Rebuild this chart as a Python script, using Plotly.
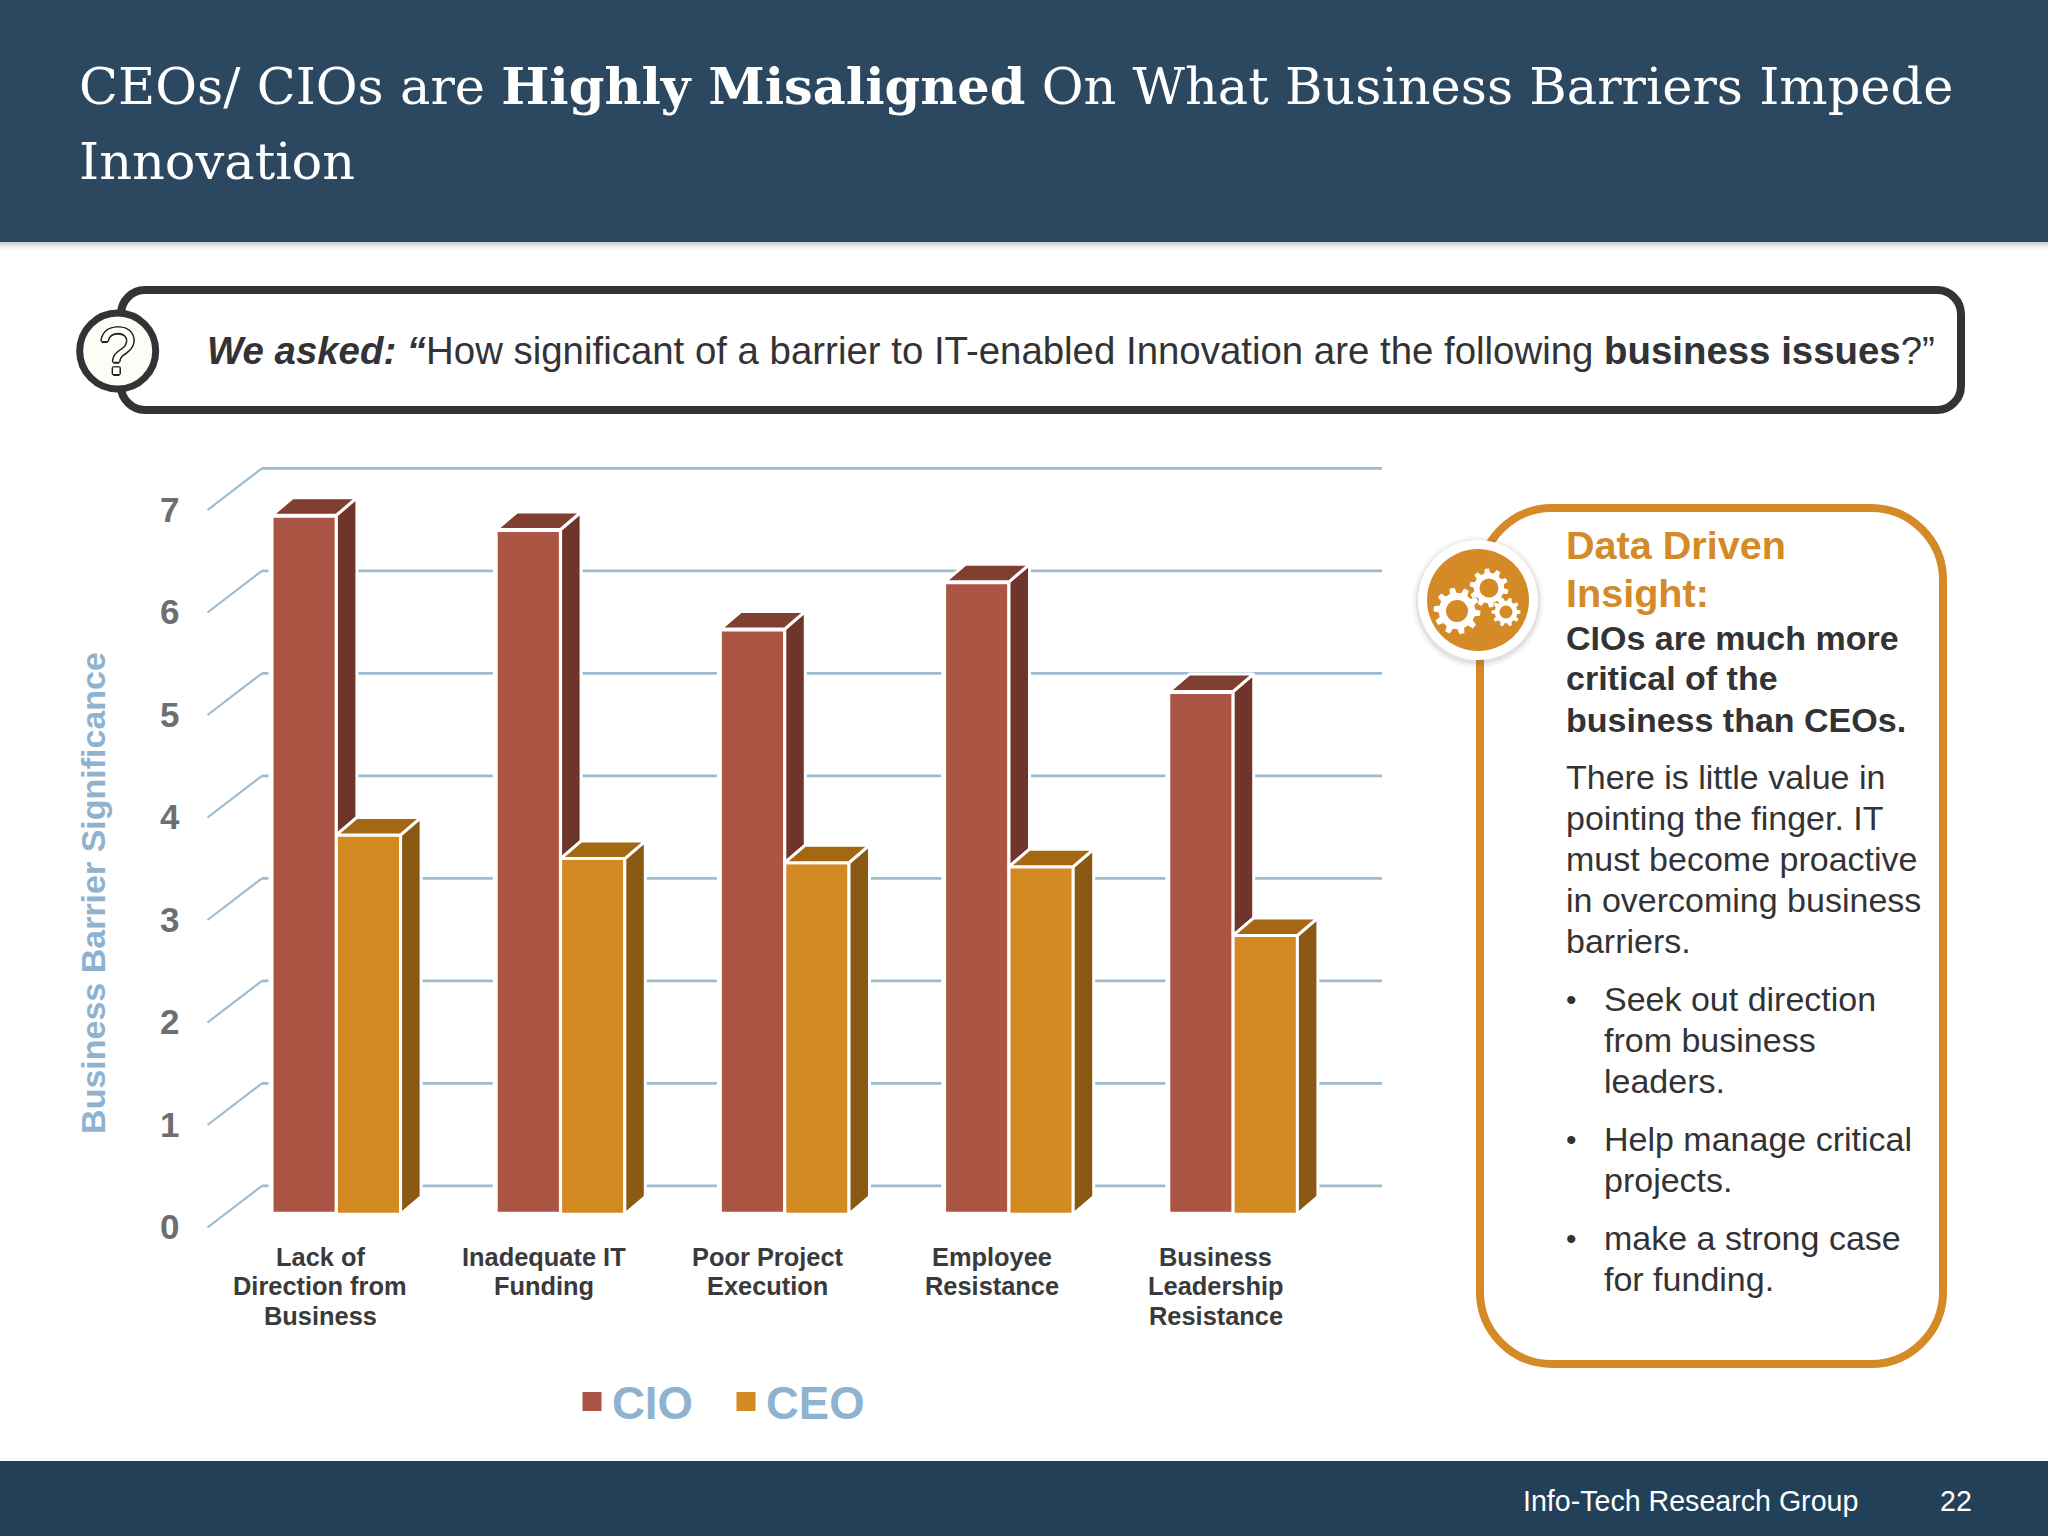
import plotly.graph_objects as go

# ---------- data ----------
categories = ["Lack of<br>Direction from<br>Business", "Inadequate IT<br>Funding", "Poor Project<br>Execution",
              "Employee<br>Resistance", "Business<br>Leadership<br>Resistance"]
cio_values = [6.82, 6.68, 5.71, 6.17, 5.1]
ceo_values = [3.7, 3.47, 3.43, 3.39, 2.72]
y_ticks = [0, 1, 2, 3, 4, 5, 6, 7]
series_names = ["CIO", "CEO"]

W, H = 2048, 1536
FONT = "Liberation Sans"
SERIF = "DejaVu Serif"
# scale geometry (pixels per unit, position of the origin)
X0, XSTEP = 336.4, 224.2
Y0, YSTEP = 1214.2, 102.5
Y_TOP, Y_BOT = 450, 1336
BAR_W = 64.2 / XSTEP
DX, DY = 20.5 / XSTEP, 17.5 / YSTEP

def px(x): return x / W
def py(y): return 1 - y / H
def dx(x): return (x - X0) / XSTEP
def dv(y): return (Y0 - y) / YSTEP

C_CIO, C_CIO_SIDE, C_CIO_TOP = "#ab5544", "#6f352a", "#813f31"
C_CEO, C_CEO_SIDE, C_CEO_TOP = "#d38a22", "#8a5a15", "#a56812"
GRID = "#9dbbd0"
BLUE = "#8fb3cf"
ORANGE = "#d38a27"
DARK = "#333335"

shapes = []

def rrect(x0, y0, x1, y1, r):
    k = r * 0.45
    pts = [f"M{px(x0+r):.6f},{py(y0):.6f}", f"L{px(x1-r):.6f},{py(y0):.6f}",
           f"C{px(x1-k):.6f},{py(y0):.6f} {px(x1):.6f},{py(y0+k):.6f} {px(x1):.6f},{py(y0+r):.6f}",
           f"L{px(x1):.6f},{py(y1-r):.6f}",
           f"C{px(x1):.6f},{py(y1-k):.6f} {px(x1-k):.6f},{py(y1):.6f} {px(x1-r):.6f},{py(y1):.6f}",
           f"L{px(x0+r):.6f},{py(y1):.6f}",
           f"C{px(x0+k):.6f},{py(y1):.6f} {px(x0):.6f},{py(y1-k):.6f} {px(x0):.6f},{py(y1-r):.6f}",
           f"L{px(x0):.6f},{py(y0+r):.6f}",
           f"C{px(x0):.6f},{py(y0+k):.6f} {px(x0+k):.6f},{py(y0):.6f} {px(x0+r):.6f},{py(y0):.6f}Z"]
    return " ".join(pts)

def rect(x0, y0, x1, y1, fill):
    shapes.append(dict(type="rect", xref="paper", yref="paper", x0=px(x0), x1=px(x1), y0=py(y1), y1=py(y0),
                       fillcolor=fill, line_width=0, layer="below"))

def circle(cx, cy, r, fill, line=None, lw=0):
    shapes.append(dict(type="circle", xref="paper", yref="paper", x0=px(cx-r), x1=px(cx+r), y0=py(cy+r), y1=py(cy-r),
                       fillcolor=fill, line=dict(color=line or fill, width=lw), layer="below"))

def gear(cx, cy, r, hole, teeth, start=0.0):
    import math
    pts = []
    n = teeth
    for i in range(n):
        a = start + 2 * math.pi * i / n
        w = 2 * math.pi / n
        for off, rad in [(-0.30, r * 0.78), (-0.17, r), (0.17, r), (0.30, r * 0.78)]:
            t = a + off * w
            pts.append((cx + rad * math.cos(t), cy + rad * math.sin(t)))
    d = "M" + " L".join(f"{px(x):.6f},{py(y):.6f}" for x, y in pts) + "Z"
    shapes.append(dict(type="path", xref="paper", yref="paper", path=d, fillcolor="white", line_width=0, layer="below"))
    circle(cx, cy, hole, ORANGE)

# slide furniture
for i, a in enumerate([0.03, 0.05, 0.07, 0.10]):
    rect(0, 242, W, 250 - 2 * i, f"rgba(60,60,60,{a})")
rect(0, 0, W, 242, "#2c4860")
rect(0, 1461, W, H, "#234059")

shapes.append(dict(type="path", xref="paper", yref="paper", path=rrect(121, 290, 1961, 410, 24),
                   fillcolor="white", line=dict(color=DARK, width=8), layer="below"))
circle(117.7, 351, 38, "#fdfcf7", DARK, 7)

shapes.append(dict(type="path", xref="paper", yref="paper", path=rrect(1480, 508, 1943, 1364, 72),
                   fillcolor="white", line=dict(color=ORANGE, width=8), layer="below"))
for r, a in [(66, 0.03), (64, 0.05), (62, 0.08)]:
    circle(1478, 602, r, f"rgba(70,70,70,{a})")
circle(1478, 600, 60, "white")
circle(1478, 600, 51, ORANGE)
gear(1457, 611, 23.5, 11, 10, 0.1)
gear(1489, 588, 19.5, 9.5, 10, 0.2)
gear(1506, 612, 14.5, 6.5, 10, 0.0)

# back wall and side wall of the 3D plot (drawn through the chart's scales)
for t in y_ticks:
    back = t + dv(1185.8)
    front = t + dv(1227.5)
    common = dict(type="line", xref="x", yref="y", layer="below")
    shapes.append(dict(x0=dx(262), x1=dx(1382), y0=back, y1=back, line=dict(color=GRID, width=2.8), **common))
    shapes.append(dict(x0=dx(207.5), x1=dx(262), y0=front, y1=back, line=dict(color=GRID, width=2.2), **common))

# 3D faces
n = len(categories)
xs = list(range(n))

def faces(left_offset, values, floor, side, top):
    sx, sy, tx, ty = [], [], [], []
    for x, v, f in zip(xs, values, floor):
        l = x + left_offset
        r = l + BAR_W
        sx += [r, r + DX, r + DX, r, r, None]
        sy += [f, f + DY, v + DY, v, f, None]
        tx += [l, l + DX, r + DX, r, l, None]
        ty += [v, v + DY, v + DY, v, v, None]
    common = dict(mode="lines", fill="toself", showlegend=False, hoverinfo="skip")
    return [go.Scatter(x=sx, y=sy, fillcolor=side, line=dict(color="white", width=3), **common),
            go.Scatter(x=tx, y=ty, fillcolor=top, line=dict(color="white", width=3), **common)]

fig = go.Figure()
fig.add_trace(go.Bar(name=series_names[0], x=xs, y=cio_values, width=BAR_W + 2 / XSTEP, offset=-BAR_W - 1.2 / XSTEP,
                     marker_color=C_CIO, marker_line=dict(color="white", width=5), showlegend=False))
fig.add_trace(go.Bar(name=series_names[1], x=xs, y=ceo_values, width=BAR_W, offset=0,
                     marker_color=C_CEO, marker_line=dict(color="white", width=3), showlegend=False))
for tr in faces(-BAR_W, cio_values, ceo_values, C_CIO_SIDE, C_CIO_TOP):
    fig.add_trace(tr)
for tr in faces(0, ceo_values, [0] * n, C_CEO_SIDE, C_CEO_TOP):
    fig.add_trace(tr)
# legend entries
for name, col in zip(series_names, [C_CIO, C_CEO]):
    fig.add_trace(go.Scatter(x=[None], y=[None], mode="markers", name=name,
                             marker=dict(symbol="square", size=16, color=col, line=dict(color=col, width=3))))

annotations = []

def text(x, y, s, size, color=DARK, family=FONT, anchor="left", **font):
    annotations.append(dict(xref="paper", yref="paper", x=px(x), y=py(y), text=s, showarrow=False, xanchor=anchor,
                            yanchor="middle", borderpad=0, font=dict(family=family, size=size, color=color, **font)))

# header
text(78, 86, "CEOs/ CIOs are <b>Highly Misaligned</b> On What Business Barriers Impede", 51, "white", SERIF)
text(78, 161, "Innovation", 51, "white", SERIF)
# question
text(206, 350, "<b><i>We asked: “</i></b>How significant of a barrier to IT-enabled Innovation are the following <b>business issues</b>?”", 38.4, DARK)
text(117.7, 351, "?", 66, "white", anchor="center",
     shadow="1.5px 0 #222, -1.5px 0 #222, 0 1.5px #222, 0 -1.5px #222, 1px 1px #222, -1px -1px #222, 1px -1px #222, -1px 1px #222")
# category labels
cat_y = [1256.5, 1286, 1315.5]
for x, c in zip(xs, categories):
    for y, line in zip(cat_y, c.split("<br>")):
        annotations.append(dict(xref="x", yref="paper", x=dx(320 + x * 223.9), y=py(y), text=f"<b>{line}</b>", showarrow=False,
                                xanchor="center", yanchor="middle", borderpad=0,
                                font=dict(family=FONT, size=25.4, color="#3a3a3c")))
# insight panel
for y, s in [(545, "Data Driven"), (593, "Insight:")]:
    text(1565, y, f"<b>{s}</b>", 39.6, ORANGE)
for y, s in [(637.5, "CIOs are much more"), (678, "critical of the"), (720, "business than CEOs.")]:
    text(1565, y, f"<b>{s}</b>", 34)
for y, s in [(777, "There is little value in"), (818, "pointing the finger. IT"), (859, "must become proactive"),
             (900, "in overcoming business"), (941, "barriers.")]:
    text(1565, y, s, 34)
for y, s, b in [(999, "Seek out direction", True), (1040, "from business", False), (1081, "leaders.", False),
                (1139, "Help manage critical", True), (1180, "projects.", False),
                (1238, "make a strong case", True), (1279, "for funding.", False)]:
    text(1603, y, s, 34)
    if b:
        text(1565, y, "•", 30)
# footer
text(1522, 1500.5, "Info-Tech Research Group", 28.6, "white")
text(1939, 1500.5, "22", 28.6, "white")

fig.update_layout(
    width=W, height=H, margin=dict(l=0, r=0, t=0, b=0), paper_bgcolor="white", plot_bgcolor="rgba(0,0,0,0)",
    barmode="overlay", shapes=shapes, annotations=annotations, hovermode=False,
    legend=dict(orientation="h", x=px(572), y=py(1402), xanchor="left", yanchor="middle", bgcolor="rgba(0,0,0,0)",
                font=dict(family=FONT, size=45.5, color=BLUE, weight="bold"), entrywidth=109, entrywidthmode="pixels"),
    xaxis=dict(domain=[0, 1], range=[dx(0), dx(W)], visible=False, fixedrange=True),
    yaxis=dict(domain=[py(Y_BOT), py(Y_TOP)], range=[dv(Y_BOT), dv(Y_TOP)], anchor="free", position=px(179.5),
               tickmode="array", tickvals=y_ticks, ticktext=[str(t) for t in y_ticks],
               showgrid=False, zeroline=False, showline=False, ticks="", automargin=False, fixedrange=True,
               ticklabelshift=13, ticklabelstandoff=0,
               tickfont=dict(family=FONT, size=35, color="#6d6e71", weight="bold"),
               title=dict(text="<b>Business Barrier Significance</b>", standoff=42.5,
                          font=dict(family=FONT, size=34, color=BLUE))),
)
fig.write_html("out.html", config=dict(displayModeBar=False),
               post_script="document.body.style.margin='0';document.documentElement.style.margin='0';")
